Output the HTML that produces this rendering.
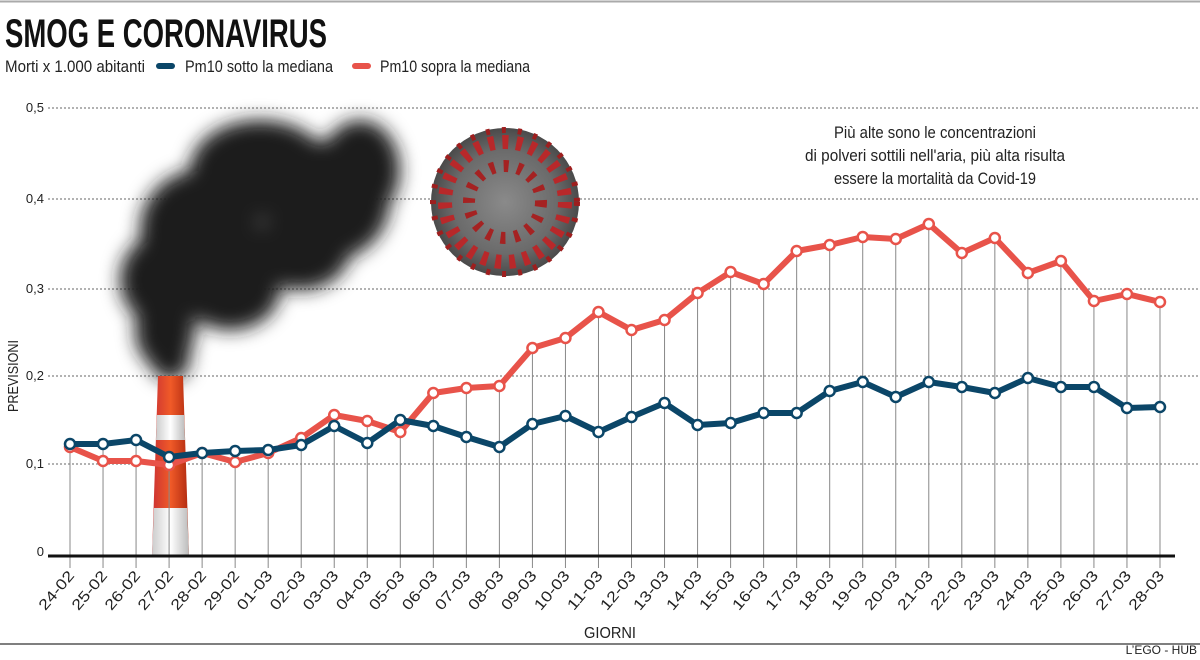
<!DOCTYPE html>
<html><head><meta charset="utf-8"><style>
body{margin:0;background:#fff;width:1200px;height:655px;overflow:hidden}
svg text{font-family:"Liberation Sans Narrow","Liberation Sans",sans-serif}
</style></head><body>
<svg width="1200" height="655" viewBox="0 0 1200 655" xmlns="http://www.w3.org/2000/svg">
<defs>
<filter id="bl" x="-50%" y="-50%" width="200%" height="200%"><feGaussianBlur stdDeviation="9"/></filter>
<radialGradient id="vg" cx="50%" cy="50%" r="50%"><stop offset="0" stop-color="#8a8a8a"/><stop offset="0.7" stop-color="#6b6b6b"/><stop offset="1" stop-color="#4a4a4a"/></radialGradient>
<linearGradient id="ch" x1="0" x2="1"><stop offset="0" stop-color="#c33"/><stop offset="0.5" stop-color="#f05a28"/><stop offset="1" stop-color="#b02a10"/></linearGradient>
<linearGradient id="cw" x1="0" x2="1"><stop offset="0" stop-color="#ccc"/><stop offset="0.5" stop-color="#fff"/><stop offset="1" stop-color="#bbb"/></linearGradient>
</defs>
<line x1="0" y1="1.5" x2="1200" y2="1.5" stroke="#aaa" stroke-width="2"/>
<text x="5" y="47" font-size="40" font-weight="bold" fill="#111" textLength="322" lengthAdjust="spacingAndGlyphs">SMOG E CORONAVIRUS</text>
<text x="5" y="72" font-size="17" fill="#222" textLength="140" lengthAdjust="spacingAndGlyphs">Morti x 1.000 abitanti</text>
<line x1="159" y1="66" x2="172" y2="66" stroke="#0b4668" stroke-width="6" stroke-linecap="round"/>
<text x="185" y="72" font-size="17" fill="#222" textLength="148" lengthAdjust="spacingAndGlyphs">Pm10 sotto la mediana</text>
<line x1="355" y1="66" x2="368" y2="66" stroke="#e8534a" stroke-width="6" stroke-linecap="round"/>
<text x="380" y="72" font-size="17" fill="#222" textLength="150" lengthAdjust="spacingAndGlyphs">Pm10 sopra la mediana</text>
<g stroke="#666" stroke-width="1" stroke-dasharray="2,2">
<line x1="48" y1="108" x2="1200" y2="108"/><line x1="48" y1="199" x2="1200" y2="199"/>
<line x1="48" y1="289" x2="1200" y2="289"/><line x1="48" y1="376" x2="1200" y2="376"/>
<line x1="48" y1="464" x2="1200" y2="464"/></g>
<g font-size="13" fill="#222" text-anchor="end">
<text x="44" y="112">0,5</text><text x="44" y="203">0,4</text><text x="44" y="293">0,3</text>
<text x="44" y="380">0,2</text><text x="44" y="468">0,1</text><text x="44" y="556">0</text></g>
<text transform="translate(18,412) rotate(-90)" font-size="15" fill="#222" textLength="72" lengthAdjust="spacingAndGlyphs">PREVISIONI</text>
<g filter="url(#bl)" fill="#1e1e1e">
<ellipse cx="165" cy="330" rx="30" ry="40"/><ellipse cx="160" cy="280" rx="40" ry="45"/>
<ellipse cx="200" cy="230" rx="60" ry="60"/><ellipse cx="260" cy="170" rx="70" ry="50"/>
<ellipse cx="330" cy="200" rx="60" ry="60"/><ellipse cx="360" cy="170" rx="40" ry="50"/>
<ellipse cx="230" cy="290" rx="50" ry="40"/><ellipse cx="300" cy="250" rx="50" ry="40"/>
<ellipse cx="170" cy="360" rx="20" ry="20"/></g>
<polygon points="158,376 183,376 189,556 152,556" fill="url(#ch)"/>
<polygon points="157,415 184,415 185,440 156,440" fill="url(#cw)"/>
<polygon points="154,508 187,508 189,556 152,556" fill="url(#cw)"/>
<circle cx="505" cy="202" r="74" fill="url(#vg)"/>
<g>
<circle cx="505" cy="202" r="60" fill="none" stroke="#b8282a" stroke-width="14" stroke-dasharray="6,8"/>
<circle cx="505" cy="202" r="36" fill="none" stroke="#a52222" stroke-width="12" stroke-dasharray="5,9"/>
<circle cx="505" cy="202" r="72" fill="none" stroke="#9e1e1e" stroke-width="6" stroke-dasharray="4,12"/></g>
<g font-size="17" fill="#222" text-anchor="middle">
<text x="935" y="138" textLength="202" lengthAdjust="spacingAndGlyphs">Più alte sono le concentrazioni</text>
<text x="935" y="161" textLength="260" lengthAdjust="spacingAndGlyphs">di polveri sottili nell'aria, più alta risulta</text>
<text x="935" y="184" textLength="202" lengthAdjust="spacingAndGlyphs">essere la mortalità da Covid-19</text></g>
<g id="chart"></g>
<line x1="48" y1="556" x2="1175" y2="556" stroke="#111" stroke-width="3"/>
<text x="610" y="638" font-size="16" fill="#222" text-anchor="middle" textLength="52" lengthAdjust="spacingAndGlyphs">GIORNI</text>
<line x1="0" y1="644" x2="1200" y2="644" stroke="#555" stroke-width="1.5"/>
<text x="1197" y="654" font-size="12" fill="#222" text-anchor="end">L’EGO - HUB</text>
</svg>
<script>
var b=[444,444,440,457,453,451,450,445,426,443,420,426,437,447,424,416,432,417,403,425,423,413,413,391,382,397,382,387,393,378,387,387,408,407];
var r=[447,461,461,465,453,462,453,438,415,421,432,393,388,386,348,338,312,330,320,293,272,284,251,245,237,239,224,253,238,273,261,301,294,302];
var lab=["24-02","25-02","26-02","27-02","28-02","29-02","01-03","02-03","03-03","04-03","05-03","06-03","07-03","08-03","09-03","10-03","11-03","12-03","13-03","14-03","15-03","16-03","17-03","18-03","19-03","20-03","21-03","22-03","23-03","24-03","25-03","26-03","27-03","28-03"];
var s="";
function X(i){return 70+i*33.03}
for(var i=0;i<34;i++){var m=Math.min(b[i],r[i]);s+='<line x1="'+X(i)+'" y1="'+m+'" x2="'+X(i)+'" y2="568" stroke="#888" stroke-width="1"/>';
s+='<text transform="translate('+(X(i)+5)+',576) rotate(-50)" font-size="15" fill="#222" text-anchor="end" textLength="46" lengthAdjust="spacingAndGlyphs">'+lab[i]+'</text>';}
function line(d,c){var p=d.map(function(y,i){return X(i)+','+y}).join(' ');var t='<polyline points="'+p+'" fill="none" stroke="'+c+'" stroke-width="6" stroke-linejoin="round"/>';
d.forEach(function(y,i){t+='<circle cx="'+X(i)+'" cy="'+y+'" r="5" fill="#fff" stroke="'+c+'" stroke-width="2.5"/>'});return t}
s+=line(r,"#e8534a")+line(b,"#0b4668");
document.getElementById("chart").innerHTML=s;
</script>
</body></html>
